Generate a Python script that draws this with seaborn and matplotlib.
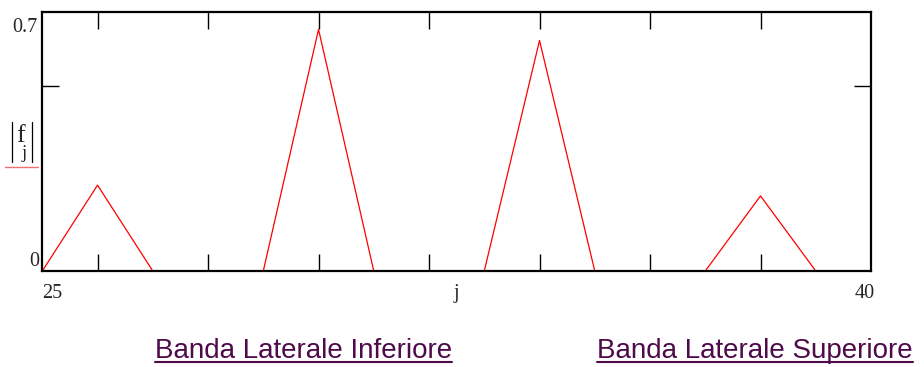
import numpy as np
import pandas as pd
import matplotlib
matplotlib.use("Agg")
import matplotlib.pyplot as plt
import seaborn as sns
from matplotlib.lines import Line2D

# data
j_values = list(range(25, 41))
f_abs = [0.0, 0.232, 0.0, 0.0, 0.0, 0.653, 0.0, 0.0, 0.0, 0.623, 0.0, 0.0, 0.0, 0.203, 0.0, 0.0]
x_ticks = [26, 28, 30, 32, 34, 36, 38]
y_ticks = [0.5]
x_limits = [25, 40]
y_limits = [0, 0.7]
band_labels = ["Banda Laterale Inferiore", "Banda Laterale Superiore"]

df = pd.DataFrame({"j": j_values, "f": f_abs})

sns.set_style("white")
plt.rcParams["font.family"] = ["DejaVu Sans"]

W, H = 924, 367
fig = plt.figure(figsize=(W / 100, H / 100), dpi=100)
ax = fig.add_axes([42.3 / W, 1 - 271 / H, (871 - 42.3) / W, (271 - 12) / H])

sns.lineplot(data=df, x="j", y="f", ax=ax, color="#ff0000", linewidth=0.9)

ax.set_xlim(*x_limits)
ax.set_ylim(*y_limits)
ax.set_xticks(x_ticks)
ax.set_yticks(y_ticks)
ax.tick_params(axis="both", which="both", direction="in", length=12.5, width=1.0,
               color="black", top=True, right=True, bottom=True, left=True,
               labelbottom=False, labelleft=False)
ax.set_xlabel("")
ax.set_ylabel("")
for sp in ax.spines.values():
    sp.set_visible(True)
    sp.set_color("black")
    sp.set_linewidth(1.6)

serif = ["Liberation Serif", "DejaVu Serif"]
fs = 14.5
# axis limit labels
ax.text(-0.006, 0.940, "0.7", transform=ax.transAxes, ha="right", va="center",
        fontsize=fs, family=serif)
ax.text(-0.004, 0.0, "0", transform=ax.transAxes, ha="right", va="bottom",
        fontsize=fs, family=serif)
ax.text(0.0, -0.085, "25", transform=ax.transAxes, ha="left", va="center",
        fontsize=fs, family=serif)
ax.text(1.004, -0.085, "40", transform=ax.transAxes, ha="right", va="center",
        fontsize=fs, family=serif)
ax.text(0.5, -0.085, "j", transform=ax.transAxes, ha="center", va="center",
        fontsize=fs, family=serif)

# y label |f_j| with red underline (Mathcad-style)
def fx(px):
    return px / W

def fy(py):
    return 1 - py / H

fig.text(fx(16.5), fy(142), "f", ha="left", va="baseline", fontsize=18.5, family=serif)
fig.text(fx(21.5), fy(158.5), "j", ha="left", va="baseline", fontsize=13.5, family=serif)
for bx in (11.7, 31.7):
    fig.add_artist(Line2D([fx(bx), fx(bx)], [fy(121.7), fy(161.7)],
                          transform=fig.transFigure, color="black", linewidth=0.9))
fig.add_artist(Line2D([fx(5), fx(37.7)], [fy(166.7), fy(166.7)],
                      transform=fig.transFigure, color="#f07070", linewidth=1.0))

# bottom hyperlink-style labels
purple = "#4e0a4a"
texts = []
texts.append(fig.text(fx(155), fy(358), band_labels[0], ha="left", va="baseline",
                      fontsize=20, color=purple, family=["Liberation Sans", "DejaVu Sans"]))
texts.append(fig.text(fx(597), fy(358), band_labels[1], ha="left", va="baseline",
                      fontsize=20, color=purple, family=["Liberation Sans", "DejaVu Sans"]))
fig.canvas.draw()
inv = fig.transFigure.inverted()
for t in texts:
    bb = t.get_window_extent().transformed(inv)
    fig.add_artist(Line2D([bb.x0, bb.x1], [fy(362.3), fy(362.3)],
                          transform=fig.transFigure, color=purple, linewidth=1.5))

fig.savefig("out.png", dpi=100)
